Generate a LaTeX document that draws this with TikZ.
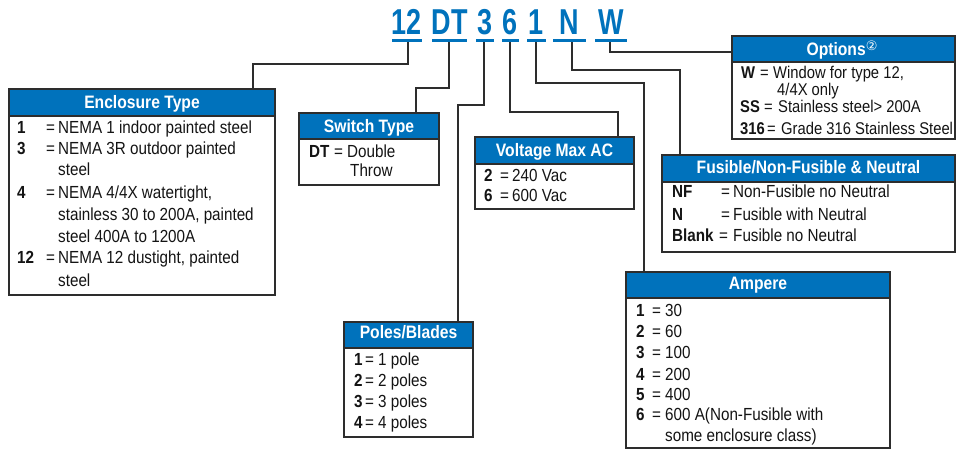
\documentclass[tikz,border=0pt]{standalone}
\usepackage{fontspec}
\setmainfont[FakeStretch=0.87]{Liberation Sans}
\newfontfamily\codefont[FakeStretch=0.75]{Liberation Sans}
\newfontfamily\symfont{DejaVu Sans}
\definecolor{eblue}{RGB}{0,114,188}
\definecolor{eline}{RGB}{45,45,45}
\definecolor{etext}{RGB}{20,20,20}
\newcommand\krow[7]{%
  \node[ktxt] (#1k) at (#3,#2) {#4};
  \node[btxt] (#1e) at (#5,#2) {=};
  \node[btxt] (#1t) at (#6,#2) {#7};}
\newcommand\crow[4]{\node[btxt] (#1) at (#2,#3) {#4};}
\newcommand\ebox[7]{% name x y w h hh title
  \node[outer, minimum width=#4, minimum height=#5] (#1) at (#2,#3) {};
  \node[hdrfill, minimum width=#4, minimum height=#6] (#1h) at (#2,#3) {};
  \draw[boxline] (#1h.south west) -- (#1h.south east);
  \draw[boxline] (#1.north west) rectangle (#1.south east);
  #7}
\begin{document}
\begin{tikzpicture}[x=1pt,y=-1pt,
  conn/.style={draw=eline,line width=1.3pt},
  boxline/.style={draw=eline,line width=1.2pt},
  hdrfill/.style={fill=eblue, draw=none, inner sep=0, outer sep=0, anchor=north west},
  outer/.style={fill=white, draw=none, inner sep=0, outer sep=0, anchor=north west},
  htxt/.style={anchor=base, text=white, font=\fontsize{18}{18}\selectfont\bfseries, inner sep=0},
  btxt/.style={anchor=base west, inner sep=0, font=\fontsize{17.5}{17.5}\selectfont, text=etext},
  ktxt/.style={btxt, font=\fontsize{17.5}{17.5}\selectfont\bfseries},
  obtxt/.style={anchor=base west, inner sep=0, font=\fontsize{17}{17}\selectfont, text=etext},
  oktxt/.style={obtxt, font=\fontsize{17}{17}\selectfont\bfseries},
  code/.style={anchor=base, inner sep=0, text=eblue, font=\codefont\fontsize{36}{36}\selectfont\bfseries},
  uline/.style={draw=eblue, line width=3pt}
]
\useasboundingbox (0,0) rectangle (956,449);

% code letters
\node[code] (c12) at (407,35) {12};
\node[code] (cDT) at (449.5,35) {DT};
\node[code] (c3) at (485,35) {3};
\node[code] (c6) at (510.5,35) {6};
\node[code] (c1) at (536.5,35) {1};
\node[code] (cN) at (569.5,35) {N};
\node[code] (cW) at (611,35) {W};
\draw[uline] (392,41) -- (422,41);
\draw[uline] (432,41) -- (467,41);
\draw[uline] (476,41) -- (494,41);
\draw[uline] (502,41) -- (519,41);
\draw[uline] (527,41) -- (546,41);
\draw[uline] (553,41) -- (586,41);
\draw[uline] (595,41) -- (627,41);
\coordinate (u12) at (408,42.5);
\coordinate (uDT) at (449,42.5);
\coordinate (u3) at (484,42.5);
\coordinate (u6) at (510,42.5);
\coordinate (u1) at (536,42.5);
\coordinate (uN) at (572,42.5);
\coordinate (uW) at (610,42.5);

% boxes
\ebox{enc}{9}{89}{266}{206}{27}{\node[htxt] (enct) at (142,108.5) {Enclosure Type};}
\krow{ea}{134}{17}{1}{46}{58}{NEMA 1 indoor painted steel}
\krow{eb}{155}{17}{3}{46}{58}{NEMA 3R outdoor painted}
\crow{ebb}{58}{176}{steel}
\krow{ec}{199}{17}{4}{46}{58}{NEMA 4/4X watertight,}
\crow{ecb}{58}{221}{stainless 30 to 200A, painted}
\crow{ecc}{58}{243}{steel 400A to 1200A}
\krow{ed}{264}{17}{12}{46}{58}{NEMA 12 dustight, painted}
\crow{edb}{58}{287}{steel}

\ebox{sw}{299}{113}{140}{72}{26}{\node[htxt] (swt) at (369,132.5) {Switch Type};}
\krow{sa}{158}{309}{DT}{334}{347}{Double}
\crow{sab}{350}{177}{Throw}

\ebox{vol}{475}{137}{159}{72}{27}{\node[htxt] (volt) at (554.5,156.5) {Voltage Max AC};}
\krow{va}{182}{484}{2}{500}{512}{240 Vac}
\krow{vb}{202}{484}{6}{500}{512}{600 Vac}

\ebox{opt}{732}{36}{223}{103}{26}{\node[htxt] (optt) at (842,55.5) {Options\raisebox{5pt}{\symfont\fontsize{13}{13}\selectfont\mdseries ②}};}
\node[oktxt] (oak) at (741,79) {W};
\node[obtxt] (oae) at (760,79) {=};
\node[obtxt] (oat) at (773,79) {Window for type 12,};
\node[obtxt] (oab) at (777,96) {4/4X only};
\node[oktxt] (obk) at (740,113) {SS};
\node[obtxt] (obe) at (764,113) {=};
\node[obtxt] (obt) at (778,113) {Stainless steel> 200A};
\node[oktxt] (ock) at (740,135) {316};
\node[obtxt] (oce) at (767,135) {=};
\node[obtxt] (oct) at (781,135) {Grade 316 Stainless Steel};

\ebox{fus}{662}{155}{293}{97}{27}{\node[htxt] (fust) at (808.5,173.5) {Fusible/Non-Fusible \& Neutral};}
\krow{fa}{198}{672}{NF}{721}{733}{Non-Fusible no Neutral}
\krow{fb}{221}{672}{N}{721}{733}{Fusible with Neutral}
\krow{fc}{242}{672}{Blank}{719}{733}{Fusible no Neutral}

\ebox{pol}{344}{322}{129}{115}{26}{\node[htxt] (polt) at (408.5,338.5) {Poles/Blades};}
\krow{pa}{365}{354}{1}{365}{378}{1 pole}
\krow{pb}{386}{354}{2}{365}{378}{2 poles}
\krow{pc}{407}{354}{3}{365}{378}{3 poles}
\krow{pd}{428}{354}{4}{365}{378}{4 poles}

\ebox{amp}{626}{272}{264}{176}{26}{\node[htxt] (ampt) at (758,289.5) {Ampere};}
\krow{aa}{316}{636}{1}{652}{665}{30}
\krow{ab}{337}{636}{2}{652}{665}{60}
\krow{ac}{358}{636}{3}{652}{665}{100}
\krow{ad}{380}{636}{4}{652}{665}{200}
\krow{ae}{400}{636}{5}{652}{665}{400}
\krow{af}{420}{636}{6}{652}{665}{600 A(Non-Fusible with}
\crow{afb}{665}{441}{some enclosure class)}

% entry points
\coordinate (encin) at (253,89);
\coordinate (swin) at (416,113);
\coordinate (polin) at (458,322);
\coordinate (volin) at (618,137);
\coordinate (ampin) at (644,272);
\coordinate (fusin) at (680,155);
\coordinate (optin) at (732,52);

% connectors
\draw[conn] (u12) -- ++(0,21.5) -| (encin);
\draw[conn] (uDT) -- ++(0,45.5) -| (swin);
\draw[conn] (u3) -- ++(0,62.5) -| (polin);
\draw[conn] (u6) -- ++(0,69.5) -| (volin);
\draw[conn] (u1) -- ++(0,40.5) -| (ampin);
\draw[conn] (uN) -- ++(0,27.5) -| (fusin);
\draw[conn] (uW) |- (optin);
\end{tikzpicture}
\end{document}
